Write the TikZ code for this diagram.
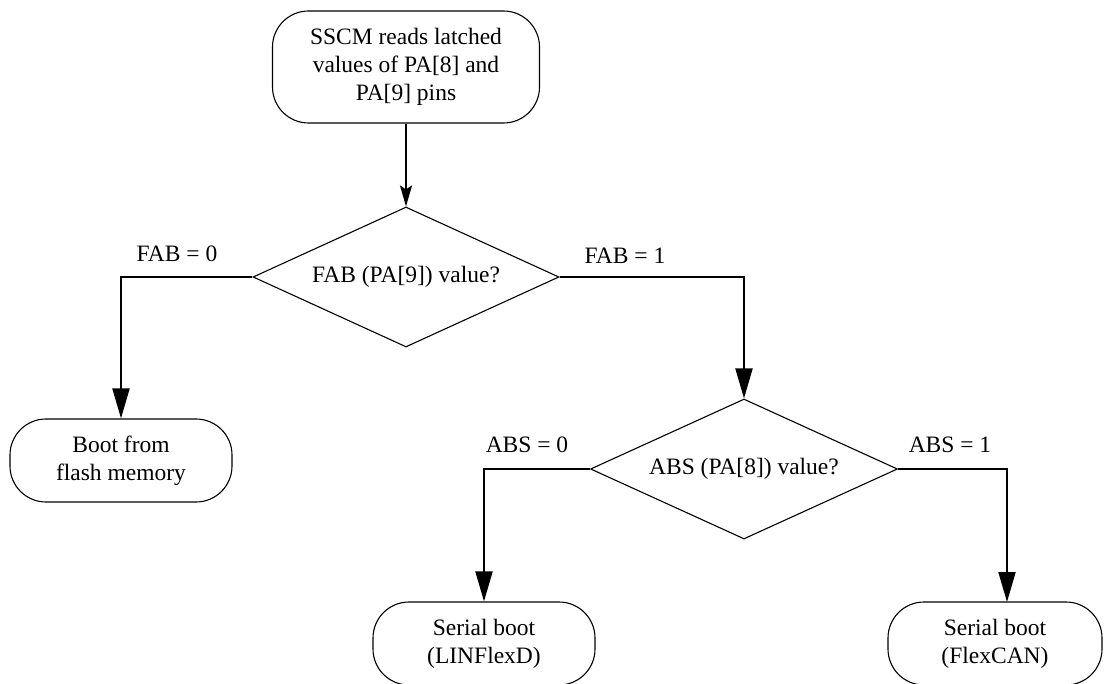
\documentclass[tikz,border=0pt]{standalone}
\usepackage{fontspec}
\setmainfont{Liberation Serif}
\usetikzlibrary{arrows.meta,shapes.geometric}
\begin{document}
\begin{tikzpicture}[x=1pt,y=-1pt,
  every node/.style={font=\fontsize{23.5}{28}\selectfont},
  term/.style={draw, line width=1.1pt, rounded corners=36pt, align=center, inner sep=0pt},
  dec/.style={draw, diamond, line width=1.1pt, inner sep=0pt, aspect=2.19},
  conn/.style={line width=2pt, -{Triangle[width=17pt,length=30pt]}},
  lbl/.style={inner sep=0pt}
]
\useasboundingbox (0,0) rectangle (1106,684);
\clip (0,0) rectangle (1106,684);
\node[term, minimum width=267pt, minimum height=112pt] (top) at (406,67) {SSCM reads latched\\values of PA[8] and\\PA[9] pins};
\node[dec, minimum width=306pt, minimum height=140pt] (d1) at (406,277) {FAB (PA[9]) value?};
\node[term, minimum width=222pt, minimum height=83pt] (boot) at (121,460.5) {Boot from\\flash memory};
\node[dec, minimum width=307pt, minimum height=140pt] (d2) at (744,469) {ABS (PA[8]) value?};
\node[term, minimum width=222pt, minimum height=83pt] (lin) at (484,643.5) {Serial boot\\(LINFlexD)};
\node[term, minimum width=214pt, minimum height=83pt] (can) at (995,643.5) {Serial boot\\(FlexCAN)};
\coordinate (canin) at (1007,602);
\draw[line width=2pt, -{Stealth[width=12pt,length=21pt,inset=4pt]}] (top.south) -- (d1.north);
\draw[conn] (d1.west) -| (boot.north);
\draw[conn] (d1.east) -| (d2.north);
\draw[conn] (d2.west) -| (lin.north);
\draw[conn] (d2.east) -| (canin);
\node[lbl] (l1) at (177,254) {FAB = 0};
\node[lbl] (l2) at (625,256) {FAB = 1};
\node[lbl] (l3) at (527,445) {ABS = 0};
\node[lbl] (l4) at (950,445) {ABS = 1};
\end{tikzpicture}
\end{document}
